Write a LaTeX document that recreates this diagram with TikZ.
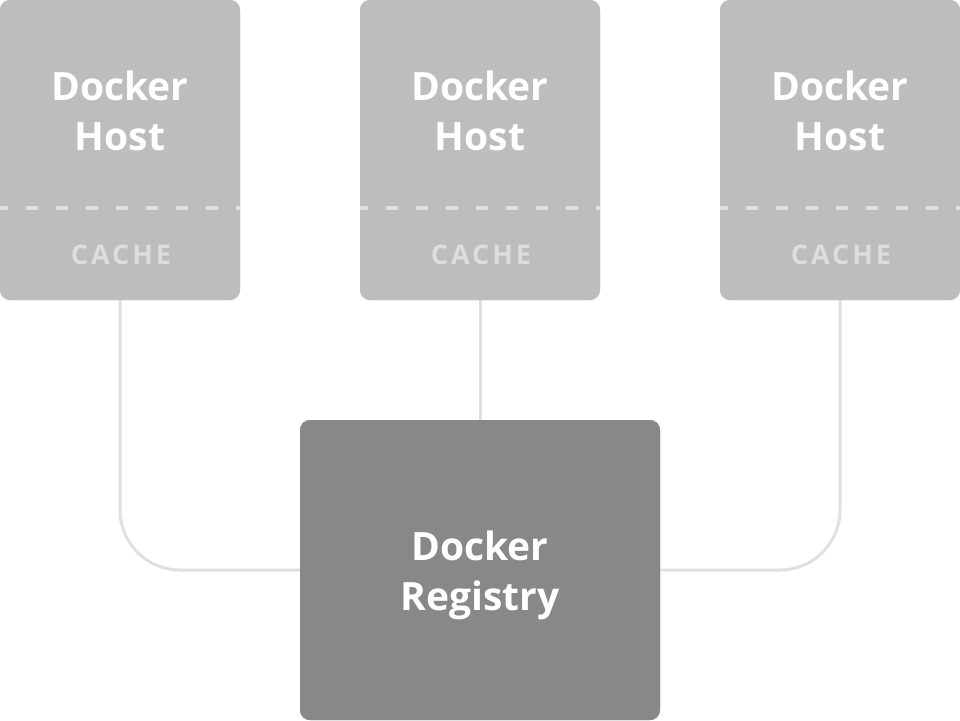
\documentclass[tikz,border=0pt]{standalone}
\usepackage{fontspec}
\setmainfont{Open Sans}
\usetikzlibrary{calc}
\definecolor{hostgray}{HTML}{BDBDBD}
\definecolor{reggray}{HTML}{888888}
\definecolor{linegray}{HTML}{E0E0E0}
\definecolor{cachegray}{HTML}{DDDDDD}
\tikzset{
  hostbox/.style={fill=hostgray, rounded corners=10pt, minimum width=240pt, minimum height=300pt, inner sep=0pt, outer sep=0pt},
  regbox/.style={fill=reggray, rounded corners=10pt, minimum width=360pt, minimum height=300pt, inner sep=0pt, outer sep=0pt},
  bigtext/.style={text=white, font=\fontsize{39pt}{50pt}\selectfont\bfseries, align=center, inner sep=0pt},
  cachetext/.style={text=cachegray, font=\fontsize{27pt}{30pt}\selectfont\bfseries\addfontfeatures{LetterSpace=11}, inner sep=0pt},
  divider/.style={draw=linegray, line width=4pt, dash pattern=on 12pt off 18pt, dash phase=4pt},
  link/.style={draw=linegray, line width=3pt, rounded corners=60pt}
}
\begin{document}
\begin{tikzpicture}[x=1pt,y=-1pt]
\useasboundingbox (0,0) rectangle (960,720);
\node[hostbox] (h1) at (120,150) {};
\node[hostbox] (h2) at (480,150) {};
\node[hostbox] (h3) at (840,150) {};
\node[regbox] (reg) at (480,570) {};
\coordinate (c1) at (h1.south |- reg.west);
\coordinate (c3) at (h3.south |- reg.east);
\path[link] (h1.south) -- (c1) -- (reg.west);
\path[link] (h3.south) -- (c3) -- (reg.east);
\path[link] (h2.south) -- (reg.north);
% redraw boxes over connector ends
\node[hostbox] at (h1) {};
\node[hostbox] at (h2) {};
\node[hostbox] at (h3) {};
\node[regbox] at (reg) {};
\foreach \h in {h1,h2,h3}{
  \path[divider] ([yshift=-208pt]\h.north west) -- ([yshift=-208pt]\h.north east);
}
\node[bigtext] (t1) at (120,111) {Docker\\Host};
\node[bigtext] (t2) at (480,111) {Docker\\Host};
\node[bigtext] (t3) at (840,111) {Docker\\Host};
\node[cachetext] (k1) at (121,255) {CACHE};
\node[cachetext] (k2) at (481,255) {CACHE};
\node[cachetext] (k3) at (841,255) {CACHE};
\node[bigtext] (tr) at (480,575) {Docker\\Registry};
\end{tikzpicture}
\end{document}
